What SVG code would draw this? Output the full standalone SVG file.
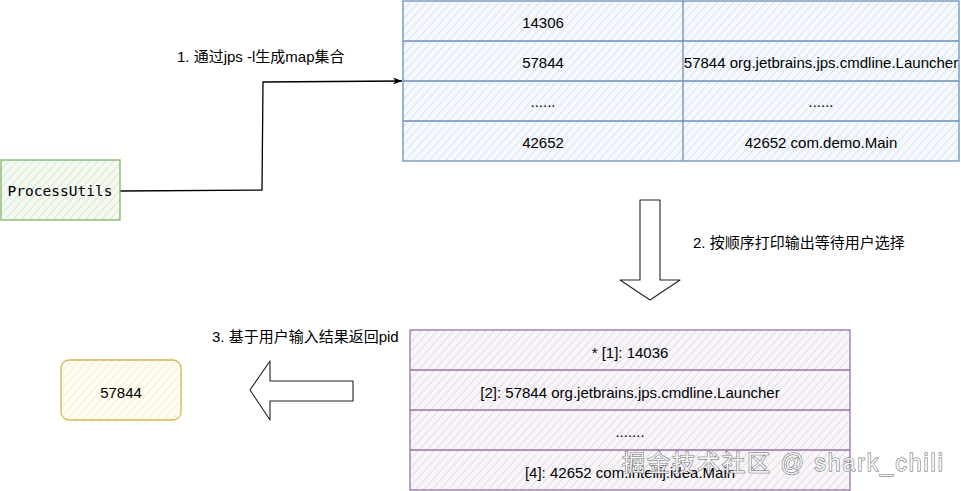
<svg xmlns="http://www.w3.org/2000/svg" width="961" height="491" viewBox="0 0 961 491">
<defs>
<pattern id="hG" patternUnits="userSpaceOnUse" width="6" height="6" patternTransform="rotate(42)"><rect width="6" height="6" fill="#f4f9f2"/><line x1="0" y1="0" x2="0" y2="6" stroke="#c6ddbe" stroke-width="1.2"/></pattern>
<pattern id="hB" patternUnits="userSpaceOnUse" width="6" height="6" patternTransform="rotate(42)"><rect width="6" height="6" fill="#f5f8fc"/><line x1="0" y1="0" x2="0" y2="6" stroke="#cad5e8" stroke-width="1.2"/></pattern>
<pattern id="hP" patternUnits="userSpaceOnUse" width="6" height="6" patternTransform="rotate(42)"><rect width="6" height="6" fill="#f8f5f9"/><line x1="0" y1="0" x2="0" y2="6" stroke="#d6cadc" stroke-width="1.2"/></pattern>
<pattern id="hY" patternUnits="userSpaceOnUse" width="6" height="6" patternTransform="rotate(42)"><rect width="6" height="6" fill="#fffcf2"/><line x1="0" y1="0" x2="0" y2="6" stroke="#f3e6bb" stroke-width="1.2"/></pattern>
<marker id="arr" markerWidth="10" markerHeight="10" refX="9" refY="5" orient="auto" markerUnits="userSpaceOnUse"><path d="M0,1.5 L9,5 L0,8.5 L2.5,5 Z" fill="#000"/></marker>
<style>
text{font-family:"Liberation Sans","Noto Sans CJK SC",Arial,sans-serif;font-size:15px;fill:#000;}
.c{text-anchor:middle;dominant-baseline:central;}
.mono{font-family:"DejaVu Sans Mono","Liberation Mono",monospace;font-size:14.5px;}
.blue{stroke:#6c8ebf;stroke-width:1.3;fill:none;}
.purple{stroke:#9673a6;stroke-width:1.3;fill:none;}
.blk{stroke:#222;stroke-width:1.1;fill:#fff;stroke-linejoin:round;}
.wm{font-size:23px;letter-spacing:2px;fill:#fff;fill-opacity:0.9;stroke:#666;stroke-width:1;paint-order:stroke;}
</style>
</defs>

<g id="connectors">
<path d="M120,191 L262,190 L263,82 L402,81" fill="none" stroke="#000" stroke-width="1.3" marker-end="url(#arr)"/>
<path class="blk" d="M640,200 L660,200 L660,280 L680,280 L650,300 L620,280 L640,280 Z"/>
<path class="blk" d="M250,390 L270,361 L270,381 L353,381 L353,401 L270,401 L270,420 Z"/>
</g>

<g id="processUtils">
<rect x="1" y="160" width="119" height="60" fill="url(#hG)" stroke="#82b366" stroke-width="1.3"/>
<text class="c mono" x="60" y="191">ProcessUtils</text>
</g>

<g id="label1"><text x="177" y="62">1. 通过jps -l生成map集合</text></g>

<g id="mapTable">
<rect x="403" y="1" width="556" height="160" fill="url(#hB)"/>
<rect class="blue" x="403" y="1" width="556" height="160"/>
<path class="blue" d="M403,41 L959,41 M403,81 L959,81 M403,121 L959,121 M683,1 L683,161"/>
<text class="c" x="543" y="22">14306</text>
<text class="c" x="543" y="62">57844</text>
<text class="c" x="543" y="101">......</text>
<text class="c" x="543" y="142">42652</text>
<text class="c" x="821" y="62">57844 org.jetbrains.jps.cmdline.Launcher</text>
<text class="c" x="821" y="101">......</text>
<text class="c" x="821" y="142">42652 com.demo.Main</text>
</g>

<g id="label2"><text x="693" y="248">2. 按顺序打印输出等待用户选择</text></g>

<g id="listTable">
<rect x="410" y="330" width="440" height="160" fill="url(#hP)"/>
<rect class="purple" x="410" y="330" width="440" height="160"/>
<path class="purple" d="M410,370 L850,370 M410,410 L850,410 M410,450 L850,450"/>
<text class="c" x="630" y="352">* [1]: 14036</text>
<text class="c" x="630" y="392">[2]: 57844 org.jetbrains.jps.cmdline.Launcher</text>
<text class="c" x="630" y="431">.......</text>
<text class="c" x="630" y="472">[4]: 42652 com.intellij.idea.Main</text>
</g>

<g id="label3"><text x="212" y="342">3. 基于用户输入结果返回pid</text></g>

<g id="result">
<rect x="61" y="360" width="120" height="60" rx="8" fill="url(#hY)" stroke="#d6b656" stroke-width="1.3"/>
<text class="c" x="121" y="392">57844</text>
</g>

<text class="wm" x="622" y="471">掘金技术社区 @ shark_chili</text>
</svg>
